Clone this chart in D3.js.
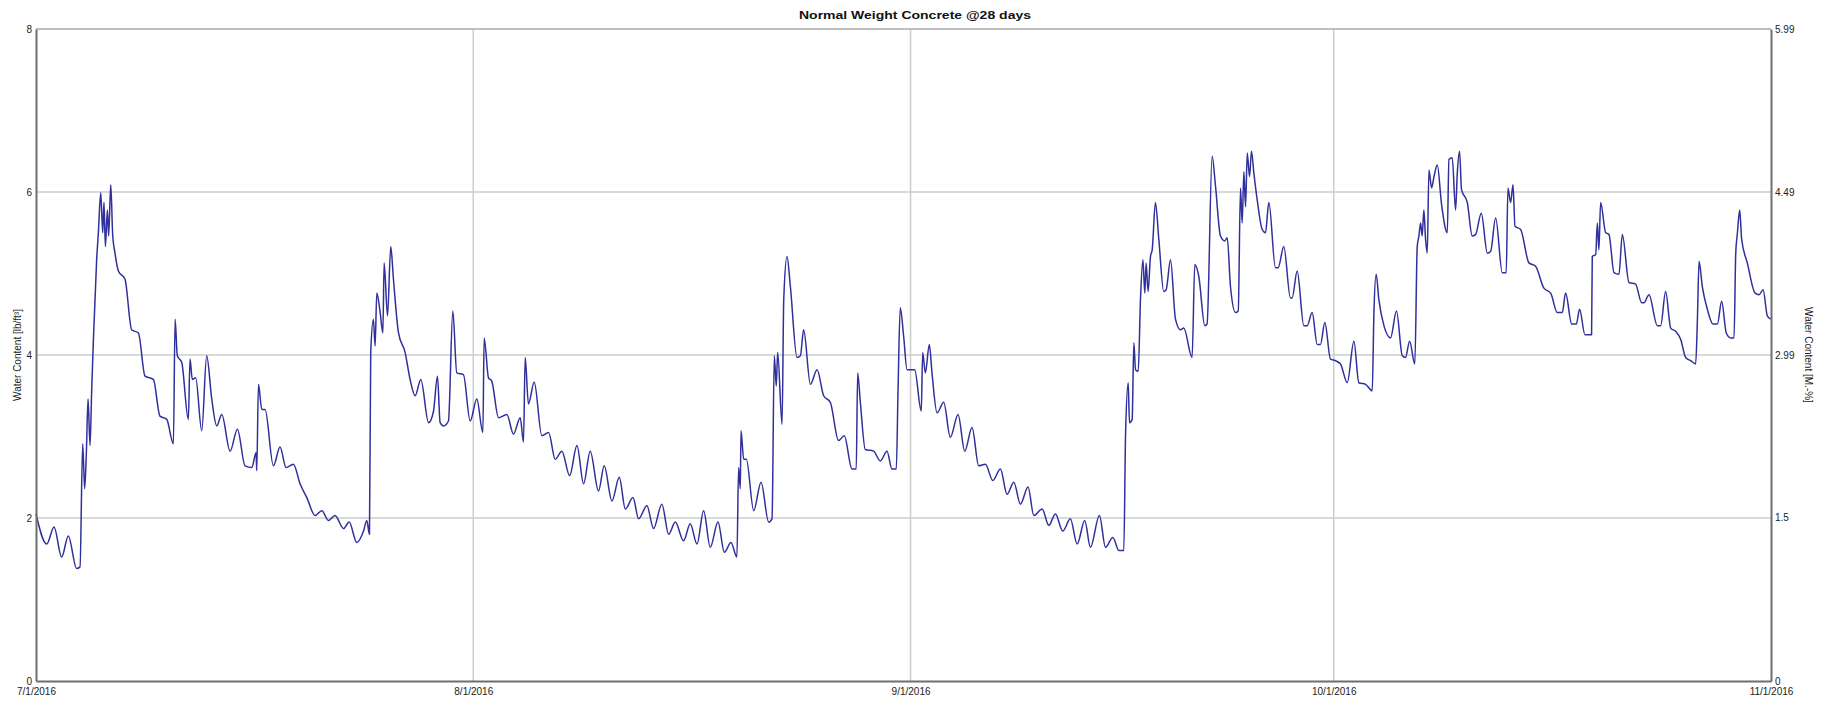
<!DOCTYPE html>
<html>
<head>
<meta charset="utf-8">
<script src="https://cdn.jsdelivr.net/npm/d3@7"></script>
<style>
  html, body { margin: 0; padding: 0; background: #fff; }
  svg { display: block; font-family: "Liberation Sans", Arial, sans-serif; }
</style>
</head>
<body>
<svg id="chart" width="1829" height="702"></svg>
<script>
// ---- DATA ----
const chartTitle = "Normal Weight Concrete @28 days";
const leftAxisTitle = "Water Content [lb/ft³]";
const rightAxisTitle = "Water Content [M.-%]";

// days since 7/1/2016
const dayOffsets = [
0,0.76,1.28,1.82,2.29,2.88,3.12,3.31,3.45,3.57,3.69,3.83,3.95,4.07,4.30,4.42,4.59,4.73,4.82,4.92,
5.06,5.15,5.30,5.44,5.60,5.84,6.31,6.78,7.26,7.73,8.32,8.79,9.27,9.74,9.86,10.02,10.33,10.80,10.92,11.08,
11.32,11.75,12.10,12.46,12.81,13.17,13.76,14.28,14.82,15.30,15.60,15.65,15.77,16.01,16.24,16.83,17.30,17.73,18.25,18.72,
19.20,19.79,20.26,20.73,21.20,21.80,22.20,22.74,23.22,23.45,23.64,23.73,23.92,24.04,24.16,24.40,24.59,24.68,24.92,25.15,
25.34,25.70,26.17,26.52,26.88,27.28,27.83,28.18,28.46,28.65,28.89,29.24,29.55,29.83,30.30,30.78,31.25,31.68,31.77,32.08,
32.31,32.79,33.38,33.85,34.33,34.56,34.68,34.91,35.32,35.86,36.34,36.81,37.28,37.83,38.35,38.82,39.29,39.88,40.28,40.83,
41.35,41.78,42.32,42.72,43.31,43.78,44.37,44.85,45.32,45.91,46.38,46.86,47.33,47.80,48.35,48.80,49.27,49.69,49.81,49.93,
49.98,50.17,50.36,50.88,51.40,51.94,52.18,52.34,52.48,52.58,52.89,53.01,53.24,53.48,53.95,54.19,54.42,54.90,55.37,55.84,
56.31,56.90,57.30,57.85,58.15,58.25,58.44,58.79,59.38,59.86,60.33,60.68,60.99,61.11,61.27,61.51,61.75,62.29,62.76,62.86,
63.05,63.33,63.52,63.88,64.35,64.82,65.37,65.84,66.36,66.83,67.31,67.83,68.37,68.84,69.32,69.79,70.33,70.74,71.33,71.80,
72.27,72.79,73.33,73.81,74.35,74.75,75.39,75.82,76.34,76.77,77.12,77.24,77.43,77.52,77.71,77.83,77.95,78.14,78.30,78.47,
78.61,78.70,78.84,79.01,79.13,79.36,79.60,79.95,80.12,80.43,80.78,81.14,81.37,81.96,82.15,82.43,82.86,83.02,83.38,83.62,
83.97,84.28,84.45,84.68,85.04,85.23,85.39,85.51,85.63,85.75,85.87,86.03,86.17,86.34,86.57,86.93,87.16,87.40,87.87,88.06,
88.46,88.93,89.05,89.41,89.88,90.12,90.47,90.83,91.06,91.37,91.77,92.13,92.48,92.96,93.43,93.78,94.26,94.73,94.85,95.01,
95.20,95.56,96.03,96.45,96.86,97.09,97.38,97.75,97.92,98.04,98.16,98.27,98.39,98.51,98.63,98.75,98.94,99.11,99.34,99.65,
100.05,100.17,100.40,100.64,100.76,100.92,101.06,101.47,101.82,102.06,102.46,102.89,103.12,103.48,103.95,104.23,104.35,104.54,104.71,104.85,
105.25,105.84,106.31,106.90,107.38,107.85,108.20,108.44,108.87,109.20,109.43,109.81,110.28,110.33,110.57,110.69,110.80,110.92,111.28,111.51,
111.87,112.22,112.46,112.93,113.40,113.83,113.99,114.35,114.94,115.18,115.53,115.89,116.24,116.60,116.95,117.31,117.66,117.78,117.90,118.13,
118.49,118.89,119.20,119.50,119.83,120.14,120.38,120.50,120.62,120.78,120.92,121.32,121.87,122.15,122.44,122.74,122.98
];

// water content, lb/ft³
const waterContent = [
2.05,1.68,1.89,1.52,1.78,1.38,1.40,2.91,2.36,2.80,3.46,2.89,3.58,4.19,5.17,5.50,5.99,5.50,5.87,5.33,
5.78,5.46,6.09,5.46,5.25,5.03,4.93,4.31,4.27,3.74,3.70,3.25,3.21,2.91,4.44,3.99,3.91,3.21,3.95,3.70,
3.72,3.07,3.99,3.46,3.13,3.27,2.82,3.09,2.64,2.62,2.80,2.58,3.64,3.33,3.33,2.64,2.87,2.62,2.66,2.42,
2.25,2.03,2.09,1.97,2.03,1.87,1.95,1.70,1.84,1.97,1.80,4.03,4.44,4.11,4.76,4.52,4.27,5.13,4.48,5.33,
4.93,4.27,4.03,3.70,3.50,3.70,3.17,3.31,3.74,3.17,3.13,3.19,4.54,3.78,3.76,3.19,3.46,3.05,4.21,3.72,
3.68,3.23,3.27,3.03,3.23,2.93,3.97,3.40,3.67,3.01,3.05,2.72,2.82,2.52,2.89,2.42,2.82,2.33,2.64,2.21,
2.50,2.11,2.25,1.99,2.15,1.87,2.17,1.80,1.95,1.72,1.93,1.68,2.09,1.64,1.95,1.58,1.70,1.52,2.62,2.36,
3.07,2.72,2.72,2.09,2.44,1.95,1.99,3.99,3.62,4.03,3.15,4.68,5.21,4.84,3.97,3.99,4.31,3.64,3.82,3.50,
3.42,2.95,3.01,2.60,2.60,3.78,3.42,2.84,2.82,2.70,2.82,2.60,2.60,3.54,4.58,4.23,3.82,3.82,3.31,4.03,
3.78,4.13,3.78,3.29,3.42,2.99,3.27,2.82,3.11,2.64,2.66,2.46,2.60,2.29,2.44,2.17,2.38,2.03,2.11,1.91,
2.05,1.84,1.99,1.68,1.97,1.64,2.03,1.64,1.76,1.60,1.60,3.01,3.66,3.17,3.21,4.15,3.82,3.80,4.68,5.17,
4.76,5.13,4.78,5.21,5.29,5.87,5.42,4.78,4.80,5.17,4.44,4.31,4.33,3.97,5.11,4.97,4.36,4.38,6.44,6.07,
5.46,5.40,5.44,4.84,4.52,4.54,6.05,5.62,6.25,5.82,6.48,6.19,6.50,6.23,5.91,5.54,5.50,5.87,5.07,5.07,
5.33,4.70,4.70,5.03,4.36,4.36,4.52,4.13,4.13,4.40,3.95,3.93,3.89,3.66,4.17,3.66,3.64,3.56,4.52,4.99,
4.68,4.36,4.21,4.54,3.99,3.97,4.17,3.89,5.33,5.46,5.62,5.46,5.78,5.42,5.25,6.27,6.05,6.19,6.33,5.84,
5.50,6.40,6.42,5.78,6.23,6.50,6.03,5.87,5.46,5.48,5.74,5.25,5.27,5.68,5.01,5.01,6.05,5.87,6.09,5.58,
5.54,5.13,5.09,4.82,4.76,4.52,4.52,4.76,4.38,4.38,4.56,4.25,4.25,5.21,5.23,5.62,5.29,5.87,5.50,5.48,
5.01,4.99,5.48,4.89,4.87,4.64,4.64,4.74,4.36,4.36,4.78,4.33,4.29,4.19,3.97,3.93,3.89,4.42,5.15,4.84,
4.56,4.38,4.38,4.66,4.27,4.21,4.21,5.25,5.50,5.78,5.42,5.13,4.76,4.74,4.80,4.48,4.44
];

const leftTicks = [0, 2, 4, 6, 8];
const rightTicks = [0, 1.5, 2.99, 4.49, 5.99];
const rightTickLabels = ["0", "1.5", "2.99", "4.49", "5.99"];
const dateTickLabels = ["7/1/2016", "8/1/2016", "9/1/2016", "10/1/2016", "11/1/2016"];

// ---- CHART ----
const svg = d3.select("#chart");
const M = { left: 36, right: 1771, top: 29, bottom: 681 };

const start = new Date(2016, 6, 1);
const toDate = d => new Date(start.getTime() + d * 86400000);
const parseTick = s => { const [m, d, y] = s.split("/").map(Number); return new Date(y, m - 1, d); };
const dateTicks = dateTickLabels.map(parseTick);

const x = d3.scaleTime().domain([dateTicks[0], dateTicks[dateTicks.length - 1]]).range([M.left, M.right]);
const y = d3.scaleLinear().domain([0, 8]).range([M.bottom, M.top]);
const yR = d3.scaleLinear().domain([0, 5.99]).range([M.bottom, M.top]);

// grid
const grid = svg.append("g").attr("stroke", "#cdcdcd").attr("stroke-width", 1.5);
grid.selectAll("line.h").data(leftTicks.filter(t => t > 0 && t < 8)).join("line")
  .attr("x1", M.left).attr("x2", M.right).attr("y1", d => y(d)).attr("y2", d => y(d));
grid.selectAll("line.v").data(dateTicks.slice(1, -1)).join("line")
  .attr("x1", d => x(d)).attr("x2", d => x(d)).attr("y1", M.top).attr("y2", M.bottom);

// top border
svg.append("line").attr("x1", M.left).attr("x2", M.right).attr("y1", M.top).attr("y2", M.top)
  .attr("stroke", "#a8a8a8").attr("stroke-width", 1.5);

// data line
const pts = dayOffsets.map((d, i) => ({ t: toDate(d), v: waterContent[i] }));
svg.append("path").datum(pts)
  .attr("fill", "none").attr("stroke", "#30309c").attr("stroke-width", 1.5)
  .attr("stroke-linejoin", "round")
  .attr("d", d3.line().curve(d3.curveMonotoneX).x(d => x(d.t)).y(d => y(d.v)));

// axes
const styleAxis = g => {
  g.select(".domain").attr("stroke", "#6e6e6e").attr("stroke-width", 2);
  g.selectAll("text").attr("fill", "#222").style("font-size", "10px")
    .style("font-family", "'Liberation Sans', Arial, sans-serif");
};
svg.append("g").attr("transform", `translate(${M.left},0)`)
  .call(d3.axisLeft(y).tickValues(leftTicks).tickSize(0).tickPadding(4).tickFormat(d3.format("d")))
  .call(styleAxis);
svg.append("g").attr("transform", `translate(${M.right},0)`)
  .call(d3.axisRight(yR).tickValues(rightTicks).tickSize(0).tickPadding(4).tickFormat((d, i) => rightTickLabels[i]))
  .call(styleAxis);
svg.append("g").attr("transform", `translate(0,${M.bottom})`)
  .call(d3.axisBottom(x).tickValues(dateTicks).tickSize(0).tickPadding(7).tickFormat((d, i) => dateTickLabels[i]))
  .call(styleAxis);

// titles
svg.append("text").attr("x", 915).attr("y", 19).attr("text-anchor", "middle")
  .style("font-size", "11.5px").style("font-weight", "bold").attr("fill", "#111")
  .attr("textLength", 232).attr("lengthAdjust", "spacingAndGlyphs")
  .text(chartTitle);
svg.append("text").attr("transform", `translate(21,${(M.top + M.bottom) / 2}) rotate(-90)`)
  .attr("text-anchor", "middle").style("font-size", "10px").attr("fill", "#222")
  .text(leftAxisTitle);
svg.append("text").attr("transform", `translate(1805,${(M.top + M.bottom) / 2}) rotate(90)`)
  .attr("text-anchor", "middle").style("font-size", "10px").attr("fill", "#222")
  .text(rightAxisTitle);
</script>
</body>
</html>
